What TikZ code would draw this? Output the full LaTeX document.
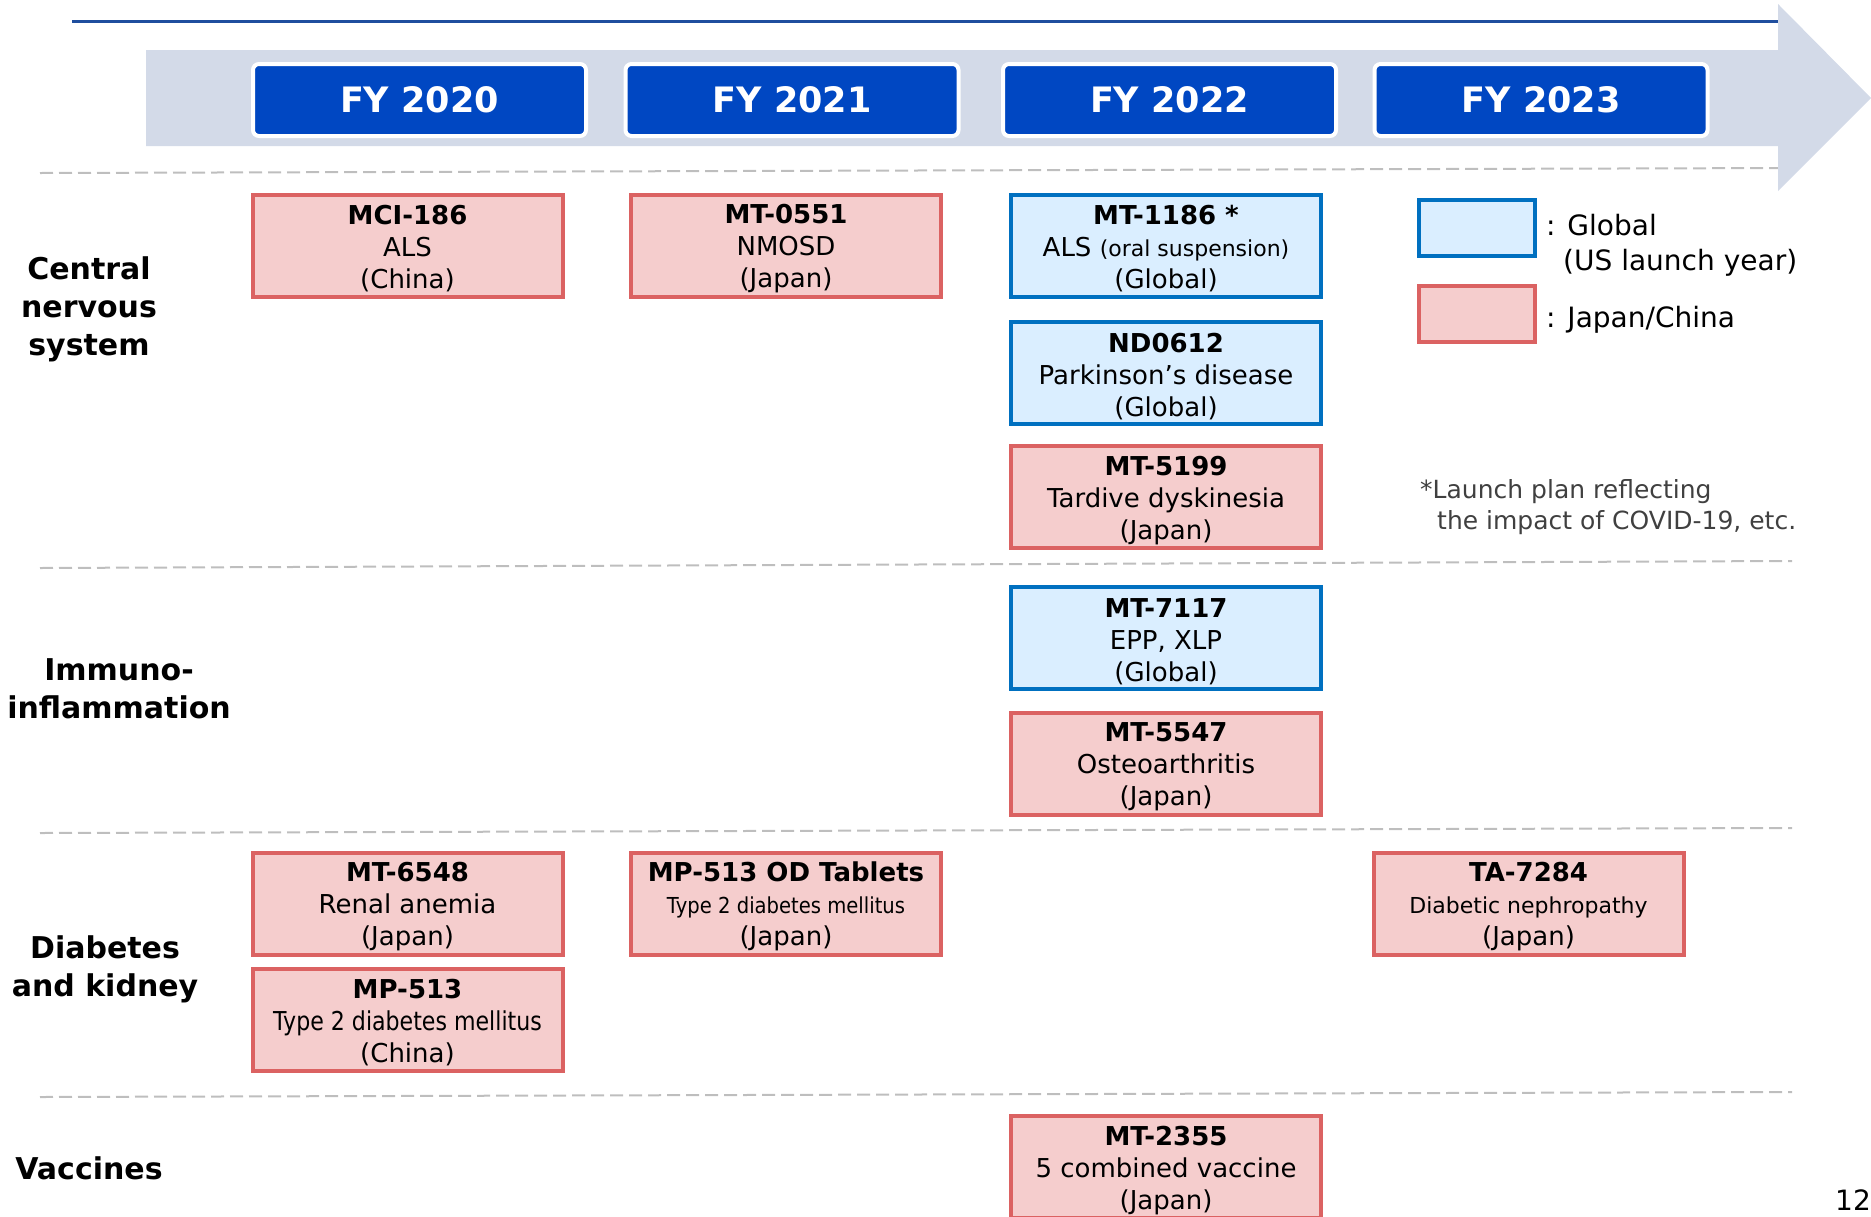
\documentclass[tikz,border=0pt]{standalone}
\usepackage{fontspec}
\setmainfont{DejaVu Sans}
\definecolor{FYBlue}{RGB}{0,71,194}
\definecolor{TopBlue}{RGB}{31,78,158}
\definecolor{BandGray}{RGB}{211,218,232}
\definecolor{JapanRed}{RGB}{219,98,98}
\definecolor{JapanPink}{RGB}{245,205,205}
\definecolor{GlobalBlue}{RGB}{0,112,192}
\definecolor{GlobalSky}{RGB}{218,238,255}
\definecolor{SepGray}{RGB}{190,190,190}
\definecolor{NoteGray}{RGB}{64,64,64}
\newcommand{\Code}[1]{\rule{0pt}{26pt}\textbf{#1}}
\newcommand{\SmallTxt}[1]{{\fontsize{22}{32}\selectfont #1}}
\newcommand{\Narrow}[2]{{\fontsize{#1}{32}\selectfont\scalebox{#2}[1]{Type 2 diabetes mellitus}}}

\tikzset{
JP/.style={draw=JapanRed, fill=JapanPink, line width=4pt, minimum width=310pt,
        minimum height=102pt, inner sep=0pt, align=center, font=\fontsize{26}{32}\selectfont},
GL/.style={JP, draw=GlobalBlue, fill=GlobalSky},
Year/.style={draw=white, fill=FYBlue, line width=4pt, rounded corners=6pt, minimum width=333pt,
        minimum height=72pt, inner sep=0pt, text=white, font=\bfseries\fontsize{35}{40}\selectfont},
Area/.style={align=center, font=\bfseries\fontsize{30}{38}\selectfont},
LegendBox/.style={minimum width=116pt, minimum height=56pt},
LegendText/.style={anchor=west, inner sep=0pt, font=\fontsize{28}{34}\selectfont},
NoteText/.style={anchor=west, inner sep=0pt, text=NoteGray, font=\fontsize{25}{30}\selectfont},
Separator/.style={draw=SepGray, line width=2pt, dash pattern=on 13pt off 6pt},
TopLine/.style={draw=TopBlue, line width=3pt},
}

\begin{document}
\begin{tikzpicture}[x=1pt,y=-1pt]
	\useasboundingbox (0,0) rectangle (1871,1216);
	\foreach \ya/\yb in {173/168,568/561,833/828,1097/1092}
		\draw[Separator] (40,\ya) -- (1792,\yb);
	\draw[TopLine] (72,21.5) -- (1778,21.5);
	\fill[BandGray] (146,50) -- (1778,50) -- (1778,4) -- (1871,98) -- (1778,191)
		-- (1778,146) -- (146,146) -- cycle;
	\foreach \n/\x in {0/419.5,1/792,2/1169.5,3/1541}
		\node[Year] (FY\n) at (\x,100) {FY 202\n};

	\node[Area] (CNS) at (89,309) {Central\\nervous\\system};
	\node[Area] (Immuno) at (119,689) {Immuno-\\inflammation};
	\node[Area] (Diabetes) at (105,969) {Diabetes\\and kidney};
	\node[Area] (Vaccines) at (89,1168) {Vaccines};

	\node[JP] (MCI186) at (407.5,245.5) {\Code{MCI-186}\\ALS\\(China)};
	\node[JP] (MT0551) at (786,245.5) {\Code{MT-0551}\\NMOSD\\(Japan)};
	\node[GL] (MT1186) at (1166,245.5) {\Code{MT-1186 *}\\ALS \SmallTxt{(oral suspension)}\\(Global)};
	\node[GL] (ND0612) at (1166,373) {\Code{ND0612}\\Parkinson's disease\\(Global)};
	\node[JP] (MT5199) at (1166,497) {\Code{MT-5199}\\Tardive dyskinesia\\(Japan)};
	\node[GL] (MT7117) at (1166,638) {\Code{MT-7117}\\EPP, XLP\\(Global)};
	\node[JP] (MT5547) at (1166,763.5) {\Code{MT-5547}\\Osteoarthritis\\(Japan)};
	\node[JP] (MT6548) at (407.5,903.5) {\Code{MT-6548}\\Renal anemia\\(Japan)};
	\node[JP] (MP513) at (407.5,1019.5) {\Code{MP-513}\\\Narrow{26}{0.85}\\(China)};
	\node[JP] (MP513OD) at (786,903.5) {\Code{MP-513 OD Tablets}\\\Narrow{22}{0.89}\\(Japan)};
	\node[JP] (TA7284) at (1528.5,903.5) {\Code{TA-7284}\\\SmallTxt{Diabetic nephropathy}\\(Japan)};
	\node[JP] (MT2355) at (1166,1167) {\Code{MT-2355}\\5 combined vaccine\\(Japan)};

	\node[GL, LegendBox] (LegGlobal) at (1477,228) {};
	\node[JP, LegendBox] (LegJapan) at (1477,314) {};
	\node[LegendText] (LegGlobalTxt) at (1546,225) {: Global};
	\node[LegendText] (LegUSTxt) at (1563,263) {(US launch year)};
	\node[LegendText] (LegJapanTxt) at (1546,320) {: Japan/China};
	\node[NoteText] (Note1) at (1420,492) {*Launch plan reflecting};
	\node[NoteText] (Note2) at (1437,523) {the impact of COVID-19, etc.};

	\node[font=\fontsize{28}{32}\selectfont] (PageNo) at (1853,1200) {12};
\end{tikzpicture}
\end{document}
